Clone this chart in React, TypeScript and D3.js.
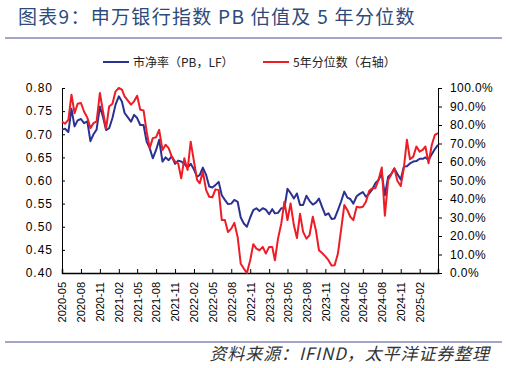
import React, { useEffect, useRef } from 'react';
import * as d3 from 'd3';

// semi-monthly observations, 2020-05 .. 2025-05
const dates = [
  "2020-05-01","2020-05-16","2020-06-01","2020-06-16","2020-07-01","2020-07-16","2020-08-01","2020-08-16",
  "2020-09-01","2020-09-16","2020-10-01","2020-10-16","2020-11-01","2020-11-16","2020-12-01","2020-12-16",
  "2021-01-01","2021-01-16","2021-02-01","2021-02-16","2021-03-01","2021-03-16","2021-04-01","2021-04-16",
  "2021-05-01","2021-05-16","2021-06-01","2021-06-16","2021-07-01","2021-07-16","2021-08-01","2021-08-16",
  "2021-09-01","2021-09-16","2021-10-01","2021-10-16","2021-11-01","2021-11-16","2021-12-01","2021-12-16",
  "2022-01-01","2022-01-16","2022-02-01","2022-02-16","2022-03-01","2022-03-16","2022-04-01","2022-04-16",
  "2022-05-01","2022-05-16","2022-06-01","2022-06-16","2022-07-01","2022-07-16","2022-08-01","2022-08-16",
  "2022-09-01","2022-09-16","2022-10-01","2022-10-16","2022-11-01","2022-11-16","2022-12-01","2022-12-16",
  "2023-01-01","2023-01-16","2023-02-01","2023-02-16","2023-03-01","2023-03-16","2023-04-01","2023-04-16",
  "2023-05-01","2023-05-16","2023-06-01","2023-06-16","2023-07-01","2023-07-16","2023-08-01","2023-08-16",
  "2023-09-01","2023-09-16","2023-10-01","2023-10-16","2023-11-01","2023-11-16","2023-12-01","2023-12-16",
  "2024-01-01","2024-01-16","2024-02-01","2024-02-16","2024-03-01","2024-03-16","2024-04-01","2024-04-16",
  "2024-05-01","2024-05-16","2024-06-01","2024-06-16","2024-07-01","2024-07-16","2024-08-01","2024-08-16",
  "2024-09-01","2024-09-16","2024-10-01","2024-10-16","2024-11-01","2024-11-16","2024-12-01","2024-12-16",
  "2025-01-01","2025-01-16","2025-02-01","2025-02-16","2025-03-01","2025-03-16","2025-04-01","2025-04-16",
  "2025-05-01",
];

// 市净率 (PB, LF), left axis
const pb = [
  0.710,0.712,0.705,0.755,0.717,0.730,0.733,0.724,0.728,0.685,0.700,0.710,0.760,0.738,0.709,0.713,
  0.735,0.764,0.782,0.771,0.746,0.737,0.727,0.742,0.735,0.720,0.720,0.684,0.670,0.648,0.666,0.688,
  0.641,0.650,0.644,0.652,0.636,0.643,0.641,0.636,0.628,0.636,0.624,0.608,0.612,0.628,0.612,0.587,
  0.585,0.590,0.597,0.568,0.558,0.549,0.550,0.558,0.554,0.520,0.507,0.500,0.520,0.536,0.540,0.534,
  0.540,0.537,0.527,0.538,0.529,0.530,0.540,0.540,0.582,0.573,0.561,0.572,0.547,0.547,0.567,0.556,
  0.548,0.552,0.561,0.543,0.525,0.529,0.517,0.518,0.536,0.554,0.576,0.563,0.560,0.550,0.566,0.571,
  0.575,0.565,0.572,0.581,0.594,0.601,0.615,0.568,0.608,0.614,0.626,0.614,0.602,0.630,0.631,0.637,
  0.641,0.642,0.647,0.647,0.650,0.644,0.657,0.668,0.677,
];

// 5年分位数 (%), right axis
const pct = [
  81.9,80.7,82.8,96.4,86.4,91.5,91.9,87.3,84.0,78.3,81.0,81.9,97.3,87.3,78.0,90.0,
  91.5,98.2,100,99.1,95.5,93.3,91.0,92.8,95.8,88.2,87.9,76.5,67.5,72.9,73.4,77.4,
  66.5,69.3,67.5,62.9,60.2,59.3,51.2,62.0,55.7,71.0,60.2,50.3,48.5,54.8,44.8,41.2,
  40.9,45.2,44.8,28.6,28.6,22.2,24.0,27.1,19.5,5.0,2.4,0.0,6.9,15.6,13.2,12.3,
  14.1,10.5,14.1,14.1,6.9,18.6,26.8,38.5,28.6,37.6,25.9,18.9,32.0,22.2,18.6,20.4,
  30.4,23.1,12.3,10.8,9.0,6.9,4.0,4.2,10.5,23.1,36.7,34.0,30.4,28.6,35.8,35.4,
  35.8,38.5,44.5,45.8,45.8,50.3,57.0,31.0,50.3,53.3,56.6,49.7,47.0,56.6,72.0,61.5,
  62.9,68.4,65.6,66.5,68.4,59.3,69.3,74.7,75.6,
];

const xTickLabels = [
  "2020-05","2020-08","2020-11","2021-02","2021-05","2021-08","2021-11","2022-02","2022-05","2022-08",
  "2022-11","2023-02","2023-05","2023-08","2023-11","2024-02","2024-05","2024-08","2024-11","2025-02",
];
const leftTicks = [0.40, 0.45, 0.50, 0.55, 0.60, 0.65, 0.70, 0.75, 0.80];
const rightTicks = [0, 10, 20, 30, 40, 50, 60, 70, 80, 90, 100];

const BLUE = "#2b3192";
const RED = "#ee1c25";
const NUM_FONT = "'Liberation Sans', Arial, sans-serif";
const CJK_FONT = "'Noto Sans CJK SC', sans-serif";

const App = () => {
  const ref = useRef<SVGSVGElement>(null);

  useEffect(() => {
    const width = 507;
    const height = 368;
    const plot = { left: 62, right: 438, top: 88, bottom: 273 };

    const svg = d3.select(ref.current)
      .attr("width", width)
      .attr("height", height);
    svg.selectAll("*").remove();

    const parse = d3.timeParse("%Y-%m-%d");
    const parseMonth = d3.timeParse("%Y-%m");
    const xs = dates.map(d => parse(d) as Date);

    const x = d3.scaleTime()
      .domain([parse("2020-05-01") as Date, parse("2025-05-01") as Date])
      .range([plot.left, plot.right]);
    const yL = d3.scaleLinear().domain([0.4, 0.8]).range([plot.bottom, plot.top]);
    const yR = d3.scaleLinear().domain([0, 100]).range([plot.bottom, plot.top]);

    // title
    svg.append("text")
      .attr("x", 18)
      .attr("y", 24)
      .attr("fill", "#2c4a7c")
      .attr("font-family", CJK_FONT)
      .attr("font-size", "19px")
      .attr("font-weight", 400)
      .attr("letter-spacing", "1.3px")
      .text("图表9：申万银行指数 PB 估值及 5 年分位数");

    // rules
    [38, 342].forEach(yy => {
      svg.append("line")
        .attr("x1", 5).attr("x2", 502)
        .attr("y1", yy).attr("y2", yy)
        .attr("stroke", "#a3a6c8")
        .attr("stroke-width", 2);
    });

    // legend
    const legend = [
      { label: "市净率（PB，LF）", color: BLUE, x: 103 },
      { label: "5年分位数（右轴）", color: RED, x: 263 },
    ];
    legend.forEach(l => {
      svg.append("line")
        .attr("x1", l.x).attr("x2", l.x + 26)
        .attr("y1", 62).attr("y2", 62)
        .attr("stroke", l.color)
        .attr("stroke-width", 2);
      svg.append("text")
        .attr("x", l.x + 30)
        .attr("y", 66.5)
        .attr("font-family", CJK_FONT)
        .attr("font-size", "12px")
        .attr("fill", "#222")
        .text(l.label);
    });

    // left axis
    const gL = svg.append("g").attr("transform", `translate(${plot.left},0)`);
    gL.call(d3.axisLeft(yL).tickValues(leftTicks).tickSize(-3).tickPadding(9).tickFormat(d3.format(".2f")));
    gL.select(".domain").attr("stroke", "#000");
    gL.selectAll("text")
      .attr("font-family", NUM_FONT)
      .attr("font-size", "12px")
      .attr("letter-spacing", "1px")
      .attr("fill", "#000");

    // right axis
    const gR = svg.append("g").attr("transform", `translate(${plot.right},0)`);
    gR.call(d3.axisRight(yR).tickValues(rightTicks).tickSize(4).tickPadding(8).tickFormat(d => `${(+d).toFixed(1)}%`));
    gR.select(".domain").attr("stroke", "#000");
    gR.selectAll("text")
      .attr("font-family", NUM_FONT)
      .attr("font-size", "12px")
      .attr("letter-spacing", "0.4px")
      .attr("fill", "#000");

    // x axis
    const gX = svg.append("g").attr("transform", `translate(0,${plot.bottom})`);
    gX.call(
      d3.axisBottom(x)
        .tickValues(xTickLabels.map(t => parseMonth(t) as Date))
        .tickSize(-4)
        .tickPadding(0)
        .tickFormat(d3.timeFormat("%Y-%m") as any)
    );
    gX.select(".domain").attr("stroke", "#000").attr("stroke-width", 1.5);
    gX.selectAll("text")
      .attr("font-family", NUM_FONT)
      .attr("font-size", "11px")
      .attr("fill", "#000")
      .attr("text-anchor", "end")
      .attr("transform", "rotate(-90)")
      .attr("x", -9)
      .attr("y", 0)
      .attr("dy", "0.35em");

    // lines
    const pbLine = d3.line<number>()
      .x((_, i) => x(xs[i]))
      .y(d => yL(d));
    const pctLine = d3.line<number>()
      .x((_, i) => x(xs[i]))
      .y(d => yR(d));

    svg.append("path")
      .datum(pb)
      .attr("d", pbLine)
      .attr("fill", "none")
      .attr("stroke", BLUE)
      .attr("stroke-width", 2)
      .attr("stroke-linejoin", "round");

    svg.append("path")
      .datum(pct)
      .attr("d", pctLine)
      .attr("fill", "none")
      .attr("stroke", RED)
      .attr("stroke-width", 2)
      .attr("stroke-linejoin", "round");

    // source
    svg.append("text")
      .attr("x", 490)
      .attr("y", 360)
      .attr("text-anchor", "end")
      .attr("font-family", CJK_FONT)
      .attr("font-size", "17px")
      .attr("font-style", "italic")
      .attr("letter-spacing", "0.9px")
      .attr("fill", "#333")
      .text("资料来源：IFIND，太平洋证券整理");
  }, []);

  return (
    <div style={{ position: "absolute", left: 0, top: 0, background: "#fff" }}>
      <svg ref={ref} style={{ display: "block" }}></svg>
    </div>
  );
};

export default App;
